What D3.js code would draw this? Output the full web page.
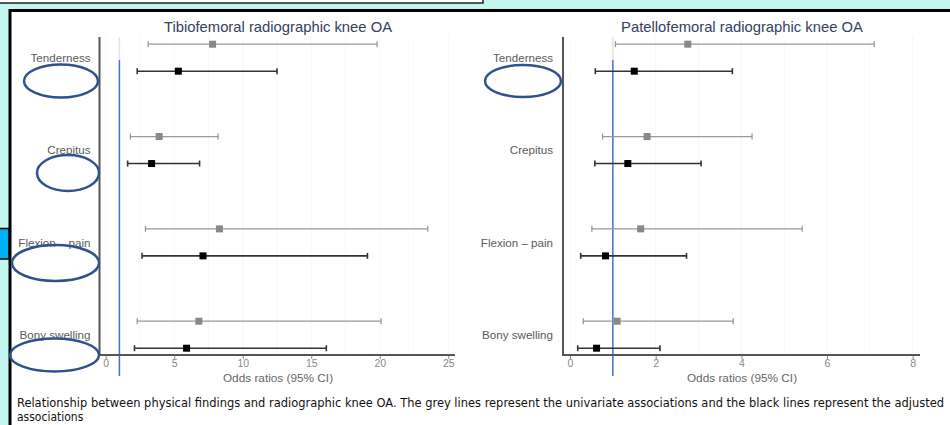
<!DOCTYPE html>
<html>
<head>
<meta charset="utf-8">
<script src="https://cdn.jsdelivr.net/npm/d3@7"></script>
<style>
  body { margin: 0; background: #c2f6ee; overflow: hidden; }
  svg { display: block; }
</style>
</head>
<body>
<div class="chart"></div>
<script>
// values
var factors = ["Tenderness", "Crepitus", "Flexion \u2013 pain", "Bony swelling"];

// tibiofemoral: univariate (grey) and adjusted (black)
var tfUniEst = [7.8, 3.9, 8.3, 6.8];
var tfUniLo = [3.1, 1.8, 2.9, 2.3];
var tfUniHi = [19.8, 8.2, 23.5, 20.1];
var tfAdjEst = [5.3, 3.35, 7.1, 5.9];
var tfAdjLo = [2.3, 1.6, 2.65, 2.1];
var tfAdjHi = [12.5, 6.85, 19.1, 16.1];

// patellofemoral
var pfUniEst = [2.75, 1.8, 1.65, 1.1];
var pfUniLo = [1.06, 0.76, 0.51, 0.31];
var pfUniHi = [7.1, 4.25, 5.42, 3.81];
var pfAdjEst = [1.5, 1.35, 0.83, 0.62];
var pfAdjLo = [0.59, 0.58, 0.25, 0.18];
var pfAdjHi = [3.79, 3.06, 2.72, 2.1];

var tfTicks = [0, 5, 10, 15, 20, 25];
var pfTicks = [0, 2, 4, 6, 8];

var svgWidth = 950;
var svgHeight = 425;

var svg = d3.select(".chart")
            .append("svg")
            .attr("width", svgWidth)
            .attr("height", svgHeight);

// slide bits round the picture
svg.append("rect")
   .attr("x", -5).attr("y", -5)
   .attr("width", 488).attr("height", 8)
   .attr("fill", "white")
   .attr("stroke", "#222").attr("stroke-width", 1.5);

svg.append("rect")
   .attr("x", 10).attr("y", 10.5)
   .attr("width", 980).attr("height", 440)
   .attr("fill", "white")
   .attr("stroke", "black").attr("stroke-width", 3);

svg.append("rect")
   .attr("x", -5).attr("y", 228.5)
   .attr("width", 14).attr("height", 30.5)
   .attr("fill", "#00b0f0")
   .attr("stroke", "black").attr("stroke-width", 1.5);

var y = d3.scalePoint().domain(factors).range([57.7, 334.7]);
var offset = 13.5;
var font = "Liberation Sans, Arial, sans-serif";

function drawPanel(opt) {
  var g = svg.append("g");
  var x = d3.scaleLinear().domain(opt.domain).range(opt.range);

  // faint grid
  var step = (opt.ticks[1] - opt.ticks[0]) / 2;
  var gridVals = d3.range(opt.domain[0], opt.domain[1] + step / 2, step);
  g.selectAll(".grid")
   .data(gridVals)
   .enter().append("line")
   .attr("x1", function(d) { return x(d); })
   .attr("x2", function(d) { return x(d); })
   .attr("y1", 36).attr("y2", 353)
   .attr("stroke", "#f7f7f7").attr("stroke-width", 1);

  // title
  g.append("text")
   .attr("x", opt.titleX).attr("y", 32)
   .attr("text-anchor", "middle")
   .attr("font-family", font)
   .attr("font-size", 14.8)
   .attr("fill", "#34405e")
   .text(opt.title);

  // reference line at OR = 1
  g.append("line")
   .attr("x1", x(1)).attr("x2", x(1))
   .attr("y1", 37).attr("y2", 60)
   .attr("stroke", "#e2e2e2").attr("stroke-width", 1.5);
  g.append("line")
   .attr("x1", x(1)).attr("x2", x(1))
   .attr("y1", 60).attr("y2", 376)
   .attr("stroke", "#4472c4").attr("stroke-width", 1.5);

  // error bars
  var series = [
    {est: opt.uniEst, lo: opt.uniLo, hi: opt.uniHi, dy: -offset, line: "#999999", pt: "#888888", w: 1.3},
    {est: opt.adjEst, lo: opt.adjLo, hi: opt.adjHi, dy: offset, line: "#333333", pt: "#000000", w: 1.6}
  ];
  series.forEach(function(s) {
    factors.forEach(function(f, i) {
      var cy = y(f) + s.dy;
      g.append("line")
       .attr("x1", x(s.lo[i])).attr("x2", x(s.hi[i]))
       .attr("y1", cy).attr("y2", cy)
       .attr("stroke", s.line).attr("stroke-width", s.w);
      [s.lo[i], s.hi[i]].forEach(function(v) {
        g.append("line")
         .attr("x1", x(v)).attr("x2", x(v))
         .attr("y1", cy - 3).attr("y2", cy + 3)
         .attr("stroke", s.line).attr("stroke-width", s.w);
      });
      g.append("rect")
       .attr("x", x(s.est[i]) - 3.5).attr("y", cy - 3.5)
       .attr("width", 7).attr("height", 7)
       .attr("fill", s.pt);
    });
  });

  // x axis
  var xAxis = d3.axisBottom(x).tickValues(opt.ticks).tickSize(4).tickPadding(1);
  var ax = g.append("g")
            .attr("transform", "translate(0,355)")
            .call(xAxis);
  ax.select(".domain").remove();
  ax.selectAll(".tick line").attr("stroke", "#888");
  ax.selectAll(".tick text")
    .attr("fill", "#888")
    .attr("font-family", font)
    .attr("font-size", 10.5);
  g.append("line")
   .attr("x1", opt.yAxisX).attr("x2", opt.axisEnd)
   .attr("y1", 355).attr("y2", 355)
   .attr("stroke", "#555").attr("stroke-width", 2);

  g.append("text")
   .attr("x", opt.labelX).attr("y", 382)
   .attr("text-anchor", "middle")
   .attr("font-family", font)
   .attr("font-size", 11.8)
   .attr("fill", "#666")
   .text("Odds ratios (95% CI)");

  // y axis
  var yAxis = d3.axisLeft(y).tickSize(0).tickPadding(opt.yPad);
  var ay = g.append("g")
            .attr("transform", "translate(" + opt.yAxisX + ",0)")
            .call(yAxis);
  ay.select(".domain").remove();
  ay.selectAll(".tick text")
    .attr("fill", "#5a5a5a")
    .attr("font-family", font)
    .attr("font-size", 11.6);
  g.append("line")
   .attr("x1", opt.yAxisX).attr("x2", opt.yAxisX)
   .attr("y1", 37).attr("y2", 356)
   .attr("stroke", "#555").attr("stroke-width", 2);
}

drawPanel({
  title: "Tibiofemoral radiographic knee OA", titleX: 278,
  domain: [0, 25], range: [105.7, 448.3], ticks: tfTicks,
  yAxisX: 99.5, axisEnd: 455, labelX: 278, yPad: 9,
  uniEst: tfUniEst, uniLo: tfUniLo, uniHi: tfUniHi,
  adjEst: tfAdjEst, adjLo: tfAdjLo, adjHi: tfAdjHi
});

drawPanel({
  title: "Patellofemoral radiographic knee OA", titleX: 742,
  domain: [0, 8], range: [570, 912.7], ticks: pfTicks,
  yAxisX: 563, axisEnd: 920, labelX: 742, yPad: 10,
  uniEst: pfUniEst, uniLo: pfUniLo, uniHi: pfUniHi,
  adjEst: pfAdjEst, adjLo: pfAdjLo, adjHi: pfAdjHi
});

// hand-drawn ellipses from the slide
var ovals = [
  {cx: 61, cy: 81, rx: 37, ry: 16.5},
  {cx: 68, cy: 173, rx: 31, ry: 18},
  {cx: 55.5, cy: 263, rx: 43.5, ry: 18},
  {cx: 54.5, cy: 355, rx: 44.5, ry: 16.5},
  {cx: 523, cy: 81, rx: 38, ry: 16}
];
svg.selectAll(".oval")
   .data(ovals)
   .enter().append("ellipse")
   .attr("cx", function(d) { return d.cx; })
   .attr("cy", function(d) { return d.cy; })
   .attr("rx", function(d) { return d.rx; })
   .attr("ry", function(d) { return d.ry; })
   .attr("fill", "none")
   .attr("stroke", "#2f528f")
   .attr("stroke-width", 2.5);

// caption
var caption = svg.append("g")
                 .attr("font-family", "Liberation Sans Narrow, DejaVu Sans Condensed, sans-serif")
                 .attr("font-size", 12)
                 .attr("fill", "#111");
caption.append("text")
       .attr("x", 17).attr("y", 407)
       .attr("textLength", 927)
       .attr("lengthAdjust", "spacingAndGlyphs")
       .text("Relationship between physical findings and radiographic knee OA. The grey lines represent the univariate associations and the black lines represent the adjusted");
caption.append("text")
       .attr("x", 17).attr("y", 421)
       .text("associations");
</script>
</body>
</html>
